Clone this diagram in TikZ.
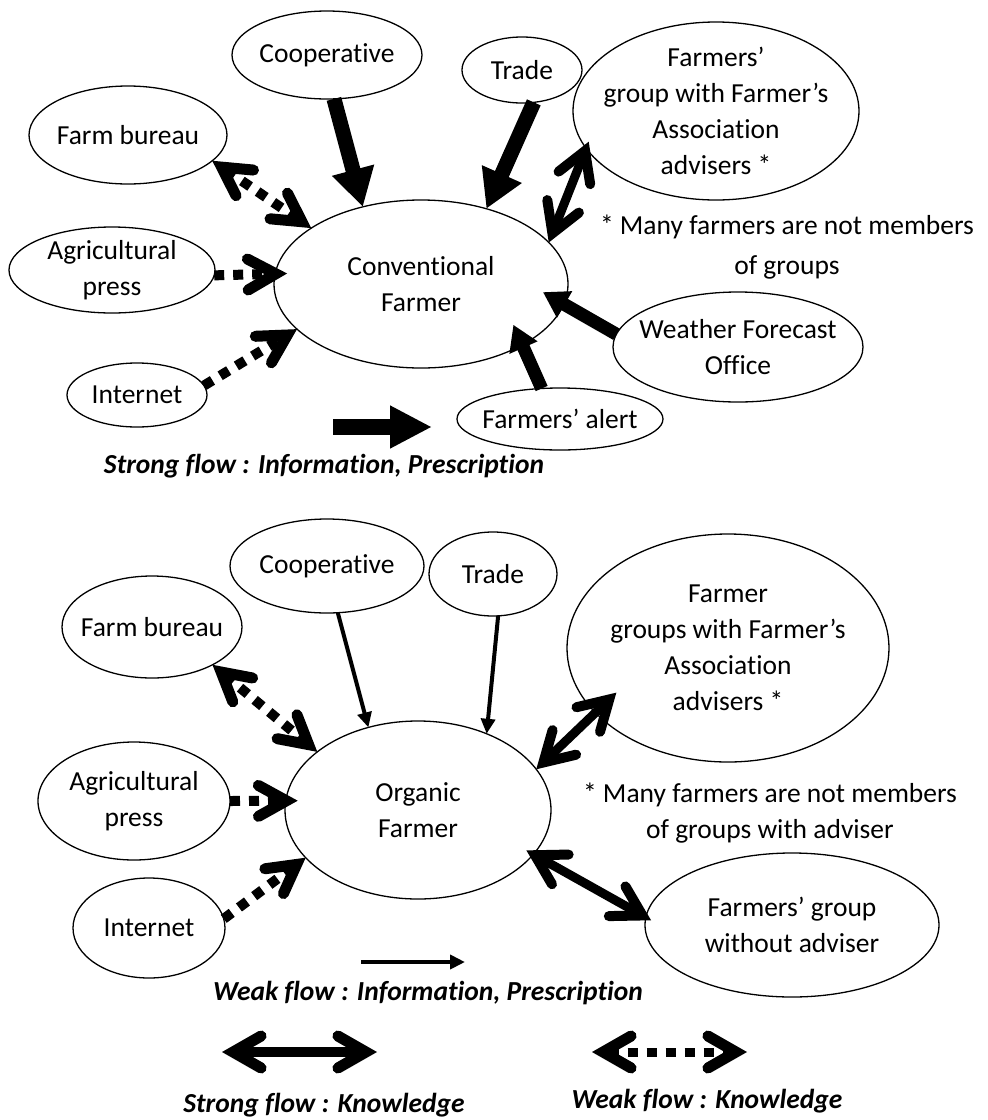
\documentclass[tikz,border=0pt]{standalone}
\usepackage{fontspec}
\setmainfont{Carlito}[Ligatures=NoCommon]
\usetikzlibrary{shapes.geometric,arrows.meta,calc}
\tikzset{
  el/.style 2 args={ellipse, draw, line width=1.3pt, inner sep=0pt, outer sep=0pt, minimum width=#1, minimum height=#2},
  txt/.style={align=center, inner sep=0pt, font=\fontsize{27.5}{36}\selectfont},
  notetxt/.style={align=center, inner sep=0pt, font=\fontsize{27.5}{40}\selectfont},
  legtxt/.style={inner sep=0pt, font=\fontsize{27.5}{33}\selectfont\bfseries\itshape},
  barb/.tip={Straight Barb[length=28pt,width=31pt,line width=11pt,line cap=round,line join=miter]},
  kbarb/.tip={Straight Barb[length=29pt,width=34pt,line width=10pt,line cap=round,line join=miter]},
  lbarb/.tip={Straight Barb[length=28pt,width=32pt,line width=11pt,line cap=round,line join=miter]},
  strongarr/.style={line width=15pt, -{Triangle[length=38pt,width=41pt]}},
  smallarr/.style={line width=13pt, -{Triangle[length=25pt,width=29pt]}},
  weakarr/.style={line width=4pt, -{Triangle[length=15pt,width=14pt]}},
  knowarr/.style={line width=9pt, arrows={kbarb-kbarb}},
  dotline/.style={line width=10pt, dash pattern=on 10pt off 9pt},
}
\begin{document}
\begin{tikzpicture}[x=1pt,y=-1pt]
\useasboundingbox (0,0) rectangle (988,1120);

% ---------- top: conventional farmer ----------
\node[el={294pt}{168pt}] (conv) at (421,284) {};
\node[txt] (convt) at (conv) {Conventional\\Farmer};
\node[el={190pt}{88pt}] (coop) at (327,55) {};
\node[txt] (coopt) at (coop) {Cooperative};
\node[el={198pt}{98pt}] (fb) at (128,135) {};
\node[txt] (fbt) at (fb) {Farm bureau};
\node[el={206pt}{86pt}] (ap) at (112,270) {};
\node[txt] (apt) at (ap) {Agricultural\\press};
\node[el={140pt}{64pt}] (inet) at (137,395) {};
\node[txt] (inett) at (inet) {Internet};
\node[el={120pt}{66pt}] (trade) at (522,70) {};
\node[txt] (tradet) at (trade) {Trade};
\node[el={286pt}{178pt}] (fg) at (716,111) {};
\node[txt] (fgt) at (fg) {Farmers’\\group with Farmer’s\\Association\\advisers *};
\node[el={250pt}{110pt}] (wfo) at (738,347) {};
\node[txt] (wfot) at (wfo) {Weather Forecast\\Office};
\node[el={206pt}{62pt}] (alert) at (560,419) {};
\node[txt] (alertt) at (alert) {Farmers’ alert};
\node[notetxt] (note1) at (787,247) {* Many farmers are not members\\of groups};

\draw[strongarr] (coop.-81) -- (conv.127.3);
\draw[strongarr] (trade.-70) -- (conv.49);
\draw[knowarr, shorten <=-7pt] (fg.196.5) -- (conv.18.7);
\draw[smallarr, shorten >=-24pt] (wfo.174) -- (conv.-8.4);
\draw[smallarr, shorten >=-22pt] (alert.121.5) -- (conv.-31.4);
\draw[dotline, arrows={barb-barb}] (fb.-17.6) -- (conv.153.8);
\draw[dotline, arrows={-barb}, shorten >=-12pt] (ap.-3) -- (conv.176);
\draw[dotline, arrows={-barb}] (inet.8.4) -- (conv.200.2);

\coordinate (l1a) at (333,427);
\coordinate (l1b) at (432,427);
\draw[line width=16pt, -{Triangle[length=42pt,width=40pt]}] (l1a) -- (l1b);
\node[legtxt] (leg1) at (324,466) {Strong flow : Information, Prescription};

% ---------- bottom: organic farmer ----------
\node[el={266pt}{178pt}] (org) at (418,810) {};
\node[txt] (orgt) at (org) {Organic\\Farmer};
\node[el={194pt}{94pt}] (coop2) at (327,566) {};
\node[txt] (coop2t) at (coop2) {Cooperative};
\node[el={128pt}{84pt}] (trade2) at (493,574) {};
\node[txt] (trade2t) at (trade2) {Trade};
\node[el={180pt}{102pt}] (fb2) at (152,627) {};
\node[txt] (fb2t) at (fb2) {Farm bureau};
\node[el={192pt}{118pt}] (ap2) at (134,801) {};
\node[txt] (ap2t) at (ap2) {Agricultural\\press};
\node[el={152pt}{100pt}] (inet2) at (149,928) {};
\node[txt] (inet2t) at (inet2) {Internet};
\node[el={322pt}{228pt}] (fgs) at (728,648) {};
\node[txt] (fgst) at (fgs) {Farmer\\groups with Farmer’s\\Association\\advisers *};
\node[el={294pt}{144pt}] (fgw) at (792,925) {};
\node[txt] (fgwt) at (fgw) {Farmers’ group\\without adviser};
\node[txt] (note2) at (770,813.5) {* Many farmers are not members\\of groups with adviser};

\draw[weakarr] (coop2.-77) -- (org.121.8);
\draw[weakarr] (trade2.-83) -- (org.48.9);
\draw[dotline, arrows={barb-barb}] (fb2.-32.6) -- (org.150);
\draw[dotline, arrows={-barb}, shorten >=-12pt] (ap2.0) -- (org.176);
\draw[dotline, arrows={-barb}] (inet2.7.8) -- (org.203.9);
\draw[knowarr, shorten <=-29pt] (fgs.206.4) -- (org.19.3);
\draw[knowarr, shorten <=-6pt, shorten >=-8pt] (fgw.177) -- (org.-21.8);

\coordinate (l2a) at (361,962);
\coordinate (l2b) at (465,962);
\draw[weakarr] (l2a) -- (l2b);
\node[legtxt] (leg2) at (428,993) {Weak flow : Information, Prescription};

\coordinate (l3a) at (222,1052);
\coordinate (l3b) at (377,1052);
\draw[line width=10pt, arrows={lbarb-lbarb}] (l3a) -- (l3b);
\node[legtxt] (leg3) at (324,1105) {Strong flow : Knowledge};

\coordinate (l4a) at (592,1052);
\coordinate (l4b) at (747,1052);
\draw[line width=9pt, dash pattern=on 10pt off 9pt, arrows={lbarb-lbarb}] (l4a) -- (l4b);
\node[legtxt] (leg4) at (707,1101) {Weak flow : Knowledge};
\end{tikzpicture}
\end{document}
